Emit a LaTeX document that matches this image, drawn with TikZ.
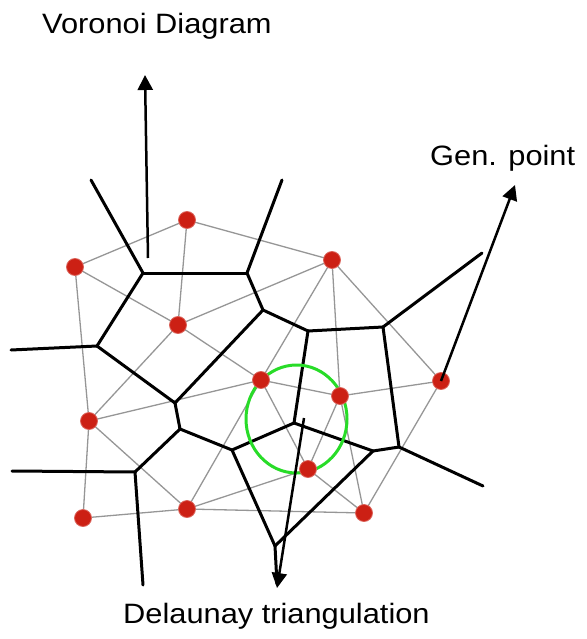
\documentclass[tikz,border=0pt]{standalone}
\usepackage{fontspec}
\setmainfont{Liberation Sans}
\usetikzlibrary{arrows.meta,shapes.geometric}
\definecolor{dotred}{RGB}{204,32,20}
\definecolor{delgray}{RGB}{150,150,150}
\definecolor{circgreen}{RGB}{40,220,40}
\tikzset{
  deledge/.style={draw=delgray, line width=1.3pt},
  voredge/.style={draw=black, line width=3pt, line cap=round, line join=round},
  gendot/.style={circle, fill=dotred, draw=dotred!70!white, line width=0.8pt, minimum size=17pt, inner sep=0pt},
  callout/.style={draw=black, line width=2.5pt, -{Triangle[length=15pt,width=15pt]}},
  lbl/.style={anchor=base west, inner sep=0pt, font=\fontsize{28}{32}\selectfont}
}
\begin{document}
\begin{tikzpicture}[x=1pt, y=-1pt]
\useasboundingbox (0,0) rectangle (586,639);
% generator points
\coordinate (g1) at (187,220);
\coordinate (g2) at (75,267);
\coordinate (g3) at (178,325);
\coordinate (g4) at (332,260);
\coordinate (g5) at (261,380);
\coordinate (g6) at (340,396);
\coordinate (g7) at (441,381);
\coordinate (g8) at (89,421);
\coordinate (g9) at (308,469);
\coordinate (g10) at (187,509);
\coordinate (g11) at (83,518);
\coordinate (g12) at (364,513);
% Voronoi vertices
\coordinate (va) at (143,273);
\coordinate (vb) at (247,273);
\coordinate (vc) at (97,346);
\coordinate (vd) at (263,310);
\coordinate (ve) at (308,331);
\coordinate (vf) at (383,327);
\coordinate (vg) at (175,403);
\coordinate (vh) at (180,429);
\coordinate (vi) at (135,472);
\coordinate (vj) at (232,450);
\coordinate (vk) at (294,423);
\coordinate (vl) at (275,546);
\coordinate (vm) at (373,451);
\coordinate (vn) at (399,447);
% open ends
\coordinate (ea) at (91,180);
\coordinate (eb) at (282,180);
\coordinate (ec) at (11,350);
\coordinate (ef) at (482,253);
\coordinate (ei1) at (12,471);
\coordinate (ei2) at (143,585);
\coordinate (en) at (483,486);
\coordinate (el) at (277,584);
% Delaunay triangulation
\foreach \a/\b in {g1/g2,g1/g3,g2/g3,g1/g4,g3/g4,g2/g8,g3/g8,g4/g5,g3/g5,g8/g5,
  g4/g6,g4/g7,g5/g6,g6/g7,g8/g10,g8/g11,g10/g11,g5/g10,g5/g9,g9/g10,g6/g9,
  g6/g12,g7/g12,g9/g12,g10/g12}
  \draw[deledge] (\a) -- (\b);
% Voronoi diagram
\foreach \a/\b in {va/ea,va/vb,va/vc,vb/eb,vb/vd,vc/ec,vc/vg,vd/ve,vd/vg,vg/vh,
  ve/vf,vf/ef,ve/vk,vf/vn,vh/vi,vi/ei1,vi/ei2,vh/vj,vj/vk,vj/vl,vk/vm,vm/vn,
  vn/en,vm/vl,vl/el}
  \draw[voredge] (\a) -- (\b);
% circumcircle
\node[draw=circgreen, line width=3pt, ellipse, minimum width=101pt, minimum height=108pt, inner sep=0pt] (cc) at (296.5,419) {};
% generator dots
\foreach \g in {1,...,12}
  \node[gendot] (d\g) at (g\g) {};
% labels
\node[lbl] (tv) at (42,34) {\scalebox{1.1}[1]{Voronoi Diagram}};
\node[lbl] (tg) at (430,166) {\scalebox{1.1}[1]{Gen. point}};
\node[lbl] (td) at (123,623) {\scalebox{1.1}[1]{Delaunay triangulation}};
% callout arrows
\coordinate (a1s) at (148,258);
\coordinate (a1e) at (145,75);
\coordinate (a2e) at (515,185);
\coordinate (a3s) at (304,418);
\coordinate (a3e) at (277,588);
\draw[callout] (a1s) -- (a1e);
\draw[callout] (d7.center) -- (a2e);
\draw[callout] (a3s) -- (a3e);
\end{tikzpicture}
\end{document}
